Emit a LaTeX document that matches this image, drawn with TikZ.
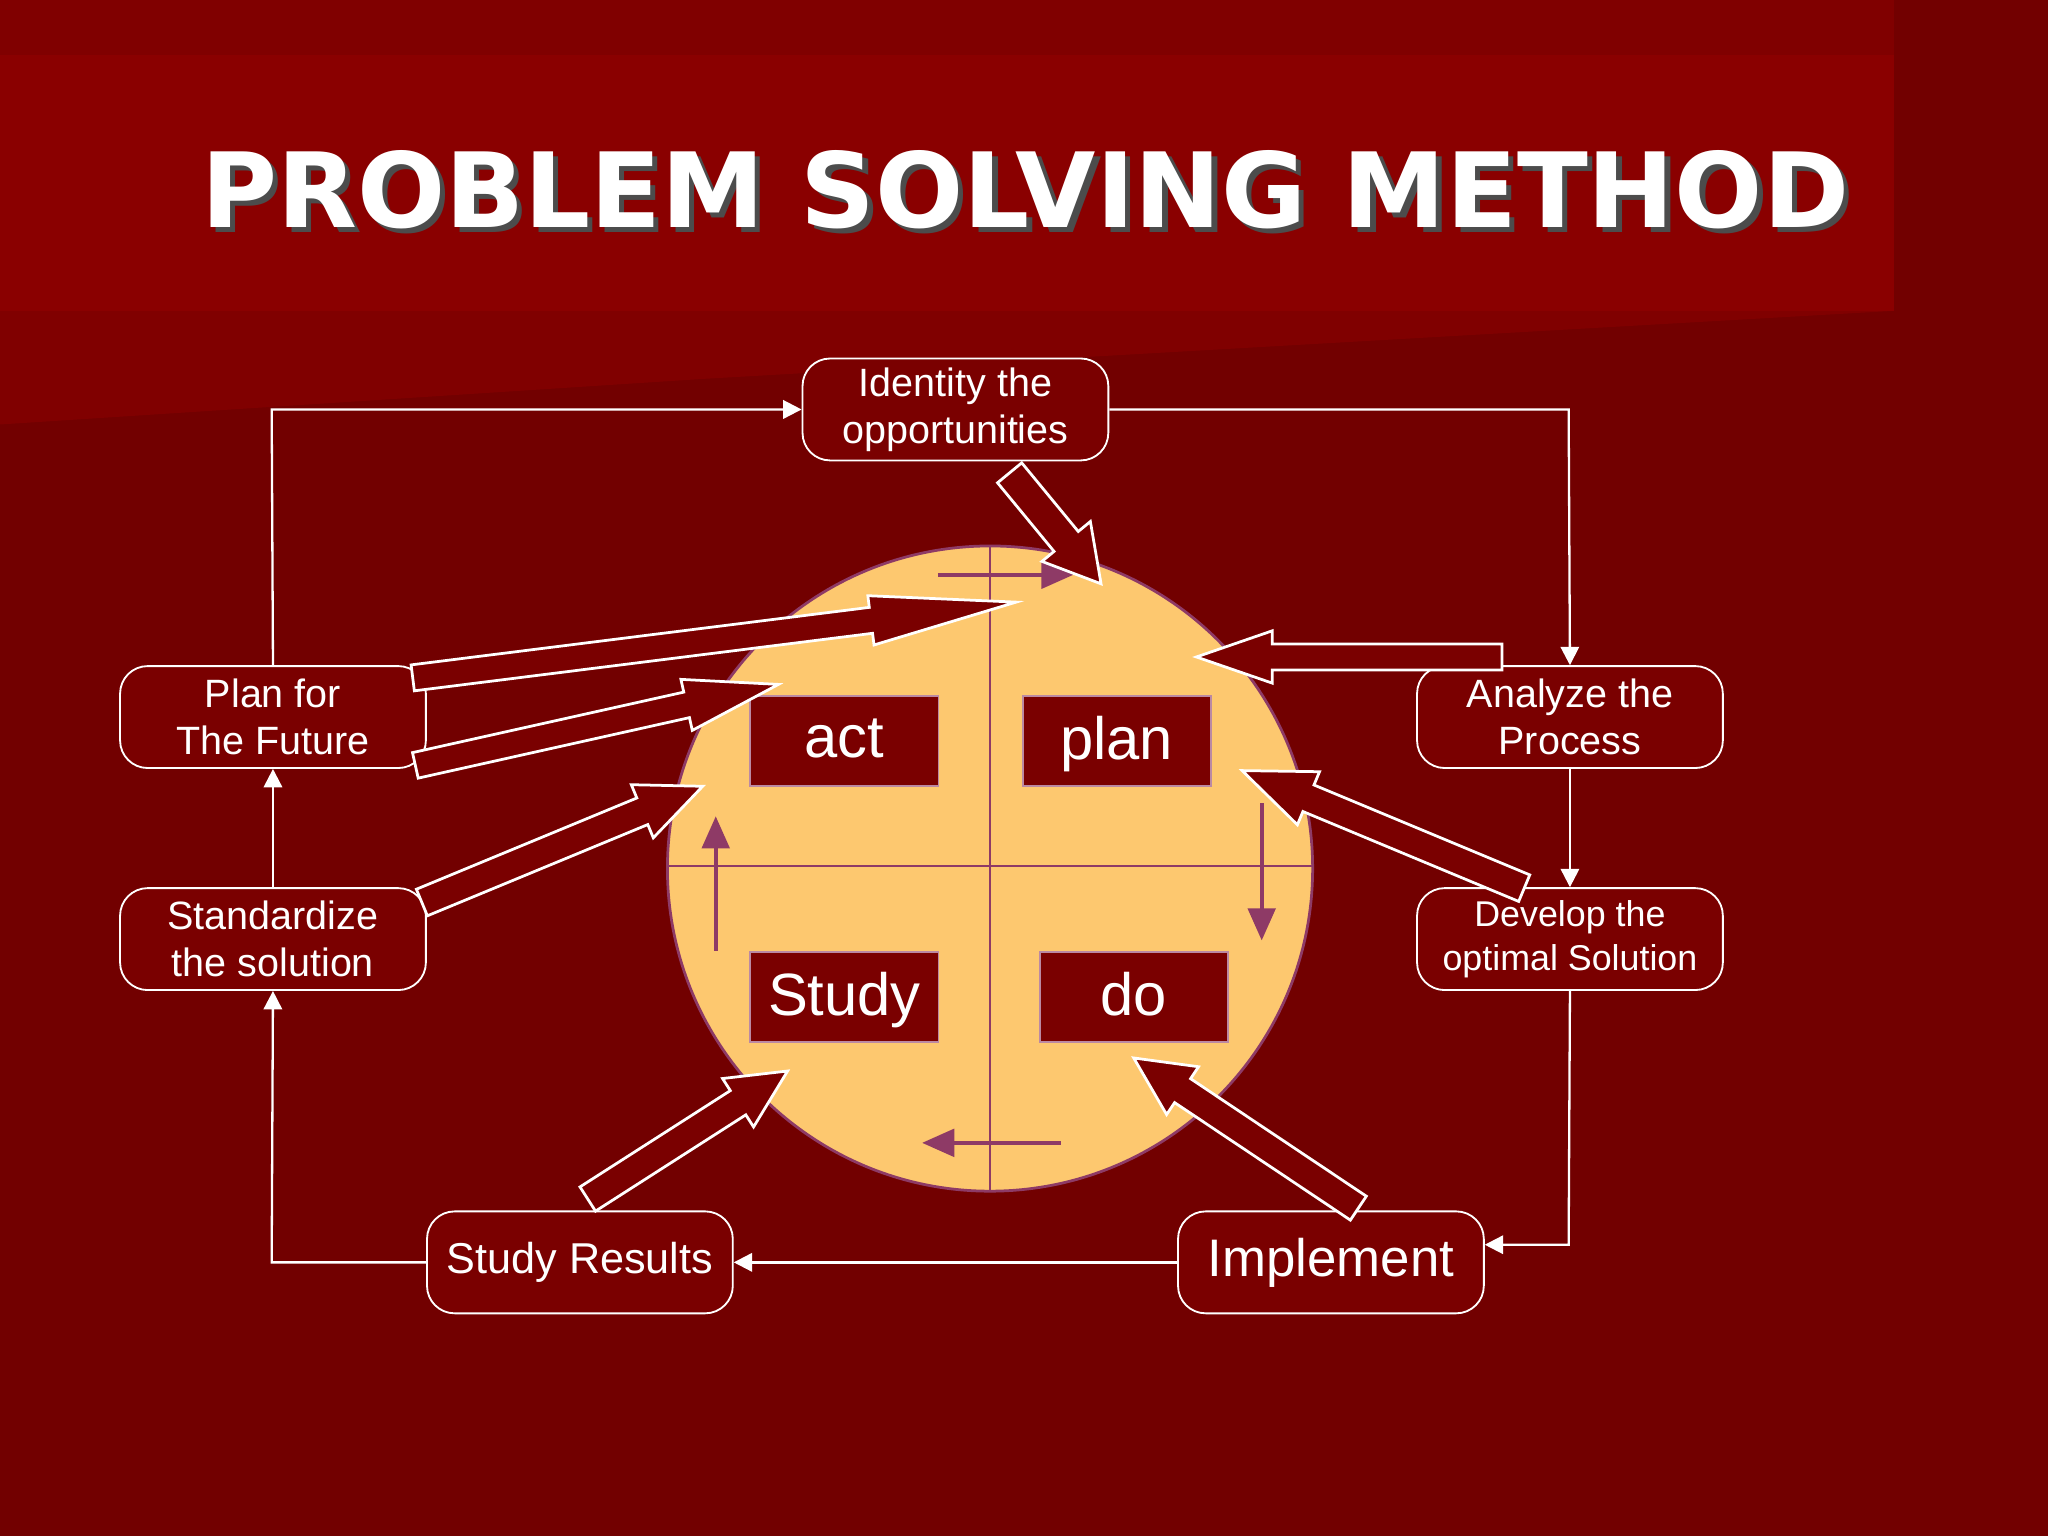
\documentclass[tikz,border=0pt]{standalone}
\usepackage{fontspec}
\setmainfont{Liberation Sans}
\newfontfamily\titlefont{DejaVu Sans}
\usetikzlibrary{calc,arrows.meta,shadows}
\definecolor{bgred}{HTML}{720000}
\definecolor{bgtop}{HTML}{800000}
\definecolor{banner}{HTML}{8A0000}
\definecolor{boxred}{HTML}{7A0000}
\definecolor{sun}{HTML}{FDC86F}
\definecolor{purp}{HTML}{8E3A66}
\tikzset{
 outbox/.style={draw=white,fill=boxred,rounded corners=6pt,minimum width=2.34cm,minimum height=0.78cm,text=white,align=center,font=\fontsize{8.6}{10.2}\selectfont,inner sep=1pt},
 quad/.style={draw=purp!60!white,fill=boxred,minimum width=1.44cm,minimum height=0.69cm,text=white,font=\fontsize{13}{14}\selectfont,inner sep=0pt,text depth=0.05cm},
 conn/.style={draw=white,line width=0.5pt,-{Triangle[length=4pt,width=4pt]}},
 small/.style={draw=purp,line width=0.8pt,-{Triangle[length=7pt,width=6pt]}},
 bigarrow/.style={draw=white,fill=boxred,line width=0.6pt,line join=miter}
}
\newcommand\fatarrow[5]{%
 \coordinate (hh) at ($(#2)!#5!(#1)$);
 \filldraw[bigarrow] ($(#1)!#3!90:(#2)$) -- ($(hh)!#3!-90:(#1)$) -- ($(hh)!#4!-90:(#1)$) -- (#2) -- ($(hh)!#4!90:(#1)$) -- ($(hh)!#3!90:(#1)$) -- ($(#1)!#3!-90:(#2)$) -- cycle;}
\begin{document}
\begin{tikzpicture}[x=0.01cm,y=-0.01cm]
\fill[bgred] (0,0) rectangle (1568,1176);
\useasboundingbox (0,0) rectangle (1568,1176);
\fill[bgtop] (0,0) -- (1450,0) -- (1450,238) -- (540,290) -- (0,325) -- cycle;
\fill[banner] (0,42) rectangle (1450,238);
\node[text=black!70,font=\titlefont\bfseries\fontsize{22.6}{26}\selectfont] at (789,149) {PROBLEM SOLVING METHOD};
\node[text=white,font=\titlefont\bfseries\fontsize{22.6}{26}\selectfont] (title) at (785,145) {PROBLEM SOLVING METHOD};
% circle
\filldraw[fill=sun,draw=purp,line width=0.6pt] (758,665) circle[radius=247];
\draw[purp,line width=0.6pt] (758,418) -- (758,912);
\draw[purp,line width=0.6pt] (510,663) -- (1005,663);
\coordinate (s1a) at (718,440); \coordinate (s1b) at (822,440);
\coordinate (s2a) at (966,615); \coordinate (s2b) at (966,720);
\coordinate (s3a) at (812,875); \coordinate (s3b) at (706,875);
\coordinate (s4a) at (548,728); \coordinate (s4b) at (548,625);
\draw[small] (s1a) -- (s1b);
\draw[small] (s2a) -- (s2b);
\draw[small] (s3a) -- (s3b);
\draw[small] (s4a) -- (s4b);
\node[quad] (act) at (646.5,567.5) {act};
\node[quad] (plan) at (855,567.5) {plan};
\node[quad] (study) at (646.5,763.5) {Study};
\node[quad] (do) at (868,763.5) {do};
% outer boxes
\node[outbox] (ident) at (731.5,313.5) {Identity the\\opportunities};
\node[outbox] (anal) at (1202,549) {Analyze the\\Process};
\node[outbox,font=\fontsize{7.8}{9.6}\selectfont] (dev) at (1202,719) {Develop the\\optimal Solution};
\node[outbox,font=\fontsize{11.5}{13}\selectfont] (impl) at (1019,966.5) {Implement};
\node[outbox,font=\fontsize{9.4}{11}\selectfont] (sres) at (444,966.5) {Study Results};
\node[outbox] (stand) at (209,719) {Standardize\\the solution};
\node[outbox] (pfut) at (209,549) {Plan for\\The Future};
% connectors
\draw[conn] (ident.east) -- (1201,313.5) -- (anal.north);
\draw[conn] (anal.south) -- (dev.north);
\draw[conn] (dev.south) -- (1201,953) -- (impl.east |- 0,953);
\draw[conn] (impl.west) -- (sres.east);
\draw[conn] (sres.west) -- (208,966.5) -- (stand.south);
\draw[conn] (stand.north) -- (pfut.south);
\draw[conn] (pfut.north) -- (208,313.5) -- (ident.west);
% big arrows
\coordinate (a1s) at (773,362); \coordinate (a1t) at (843,447);
\coordinate (a2s) at (316,519); \coordinate (a2t) at (778,461);
\coordinate (a3s) at (318,586); \coordinate (a3t) at (596,524);
\coordinate (a4s) at (323,691); \coordinate (a4t) at (538,602);
\coordinate (a5s) at (1150,503); \coordinate (a5t) at (916,503);
\coordinate (a6s) at (1167,680); \coordinate (a6t) at (951,590);
\coordinate (a7s) at (1040,925); \coordinate (a7t) at (868,810);
\coordinate (a8s) at (450,918); \coordinate (a8t) at (603,820);
\fatarrow{a1s}{a1t}{0.12cm}{0.24cm}{0.42cm}
\fatarrow{a2s}{a2t}{0.10cm}{0.19cm}{1.12cm}
\fatarrow{a3s}{a3t}{0.10cm}{0.20cm}{0.72cm}
\fatarrow{a4s}{a4t}{0.11cm}{0.22cm}{0.50cm}
\fatarrow{a5s}{a5t}{0.10cm}{0.20cm}{0.58cm}
\fatarrow{a6s}{a6t}{0.11cm}{0.22cm}{0.55cm}
\fatarrow{a7s}{a7t}{0.11cm}{0.22cm}{0.45cm}
\fatarrow{a8s}{a8t}{0.11cm}{0.22cm}{0.45cm}
\end{tikzpicture}
\end{document}
